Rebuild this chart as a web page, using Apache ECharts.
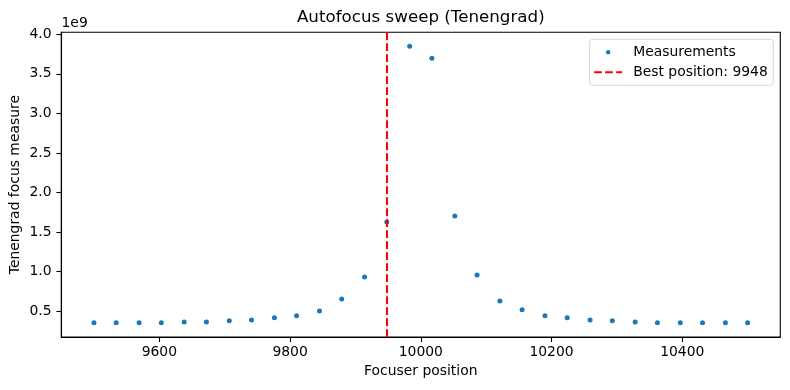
<!DOCTYPE html>
<html>
<head>
<meta charset="utf-8">
<script src="https://cdn.jsdelivr.net/npm/echarts@6/dist/echarts.min.js"></script>
<style>html,body{margin:0;padding:0;background:#fff}#c{width:790px;height:390px}</style>
</head>
<body>
<div id="c"></div>
<script>
// Focuser positions (steps)
const positions = [9500, 9534, 9569, 9603, 9638, 9672, 9707, 9741, 9776, 9810,
  9845, 9879, 9914, 9948, 9983, 10017, 10052, 10086, 10121, 10155,
  10190, 10224, 10259, 10293, 10328, 10362, 10397, 10431, 10466, 10500];
// Tenengrad focus measure, in units of 1e9
const measure = [0.354, 0.354, 0.354, 0.354, 0.366, 0.366, 0.379, 0.391, 0.417, 0.442,
  0.505, 0.656, 0.934, 1.628, 3.849, 3.697, 1.704, 0.959, 0.631, 0.518,
  0.442, 0.417, 0.391, 0.379, 0.366, 0.354, 0.354, 0.354, 0.354, 0.354];
const bestPosition = 9948;
const xTicks = [9600, 9800, 10000, 10200, 10400];
const yTicks = [0.5, 1.0, 1.5, 2.0, 2.5, 3.0, 3.5, 4.0];

const FONT = 'DejaVu Sans';
const FS = 13.9;
const points = positions.map((p, i) => [p, measure[i]]);

const chart = echarts.init(document.getElementById('c'), null, {renderer: 'canvas'});
chart.setOption({
  animation: false,
  backgroundColor: '#fff',
  textStyle: {fontFamily: FONT},
  grid: {left: 61.3, right: 9.7, top: 32.3, bottom: 53, show: true, borderColor: '#000', borderWidth: 1.1,
         backgroundColor: 'transparent', outerBoundsMode: 'none'},
  xAxis: {
    type: 'value', min: 9450, max: 10550,
    name: 'Focuser position', nameLocation: 'middle', nameGap: 27, nameMoveOverlap: false,
    nameTextStyle: {color: '#000', fontSize: FS, fontFamily: FONT},
    splitLine: {show: false},
    axisLine: {show: true, lineStyle: {color: '#000', width: 1.1}},
    axisTick: {show: true, length: 4.9, lineStyle: {color: '#000', width: 1.1}, customValues: xTicks},
    axisLabel: {color: '#000', fontSize: FS, fontFamily: FONT, margin: 8, customValues: xTicks,
                formatter: v => String(v)}
  },
  yAxis: {
    type: 'value', min: 0.175, max: 4.025,
    name: 'Tenengrad focus measure', nameLocation: 'middle', nameGap: 38.5, nameRotate: 90,
    nameMoveOverlap: false,
    nameTextStyle: {color: '#000', fontSize: FS, fontFamily: FONT},
    splitLine: {show: false},
    axisLine: {show: true, lineStyle: {color: '#000', width: 1.1}},
    axisTick: {show: true, length: 4.9, lineStyle: {color: '#000', width: 1.1}, customValues: yTicks},
    axisLabel: {color: '#000', fontSize: FS, fontFamily: FONT, margin: 9.7, customValues: yTicks,
                formatter: v => v.toFixed(1)}
  },
  legend: {
    orient: 'vertical', right: 16.7, top: 39.3,
    padding: [6, 5.5, 6, 4.5], itemGap: 6, itemWidth: 28, itemHeight: 14,
    backgroundColor: 'rgba(255,255,255,0.8)', borderColor: 'rgba(204,204,204,0.8)', borderWidth: 1, borderRadius: 3,
    textStyle: {color: '#000', fontSize: FS, fontFamily: FONT, padding: [0, 0, 0, 6]},
    selectedMode: false,
    data: [
      {name: 'Measurements', icon: 'path://M0,0M28,14M14,4.8A2.2,2.2,0,1,1,14,9.2A2.2,2.2,0,1,1,14,4.8Z',
       itemStyle: {color: '#1f77b4'}},
      {name: 'Best position: ' + bestPosition,
       icon: 'path://M0,0M28,14M0,5.96H7.7V8.04H0ZM11,5.96H18.7V8.04H11ZM22,5.96H28V8.04H22Z',
       itemStyle: {color: '#ff0000'}}
    ]
  },
  graphic: [
    {type: 'text', x: 420.8, y: 17.5, style: {text: 'Autofocus sweep (Tenengrad)', fill: '#000',
      font: '16.7px "DejaVu Sans"', textAlign: 'center', textVerticalAlign: 'middle'}},
    {type: 'text', x: 61.5, y: 23, style: {text: '1e9', fill: '#000',
      font: '13.9px "DejaVu Sans"', textAlign: 'left', textVerticalAlign: 'middle'}}
  ],
  series: [
    {
      type: 'scatter', name: 'Measurements', data: points,
      symbol: 'circle', symbolSize: 5, itemStyle: {color: '#1f77b4', opacity: 1}, z: 3
    },
    {
      type: 'line', name: 'Best position: ' + bestPosition, data: [],
      itemStyle: {color: '#ff0000'}, lineStyle: {color: '#ff0000'}, symbol: 'none', z: 2,
      markLine: {
        silent: true, symbol: 'none', animation: false,
        label: {show: false},
        lineStyle: {color: '#ff0000', width: 2.08, type: [7.7, 3.3]},
        data: [{xAxis: bestPosition}]
      }
    }
  ]
});
</script>
</body>
</html>
